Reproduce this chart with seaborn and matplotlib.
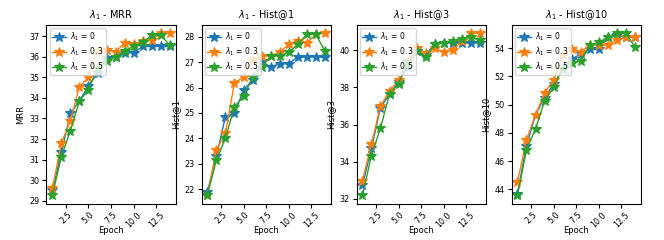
import matplotlib
matplotlib.use('Agg')
import matplotlib.pyplot as plt
from matplotlib.ticker import MultipleLocator
import pandas as pd
import seaborn as sns

epochs = list(range(1, 15))
lambdas = ['0', '0.3', '0.5']

# MRR
mrr_0 = [29.5, 31.35, 33.25, 33.85, 34.6, 35.2, 35.95, 36.0, 36.2, 36.2, 36.5, 36.5, 36.5, 36.5]
mrr_3 = [29.6, 31.8, 32.9, 34.55, 35.0, 36.3, 36.35, 36.25, 36.65, 36.6, 36.75, 36.8, 37.15, 37.15]
mrr_5 = [29.26, 31.15, 32.4, 33.85, 34.4, 35.45, 35.8, 36.0, 36.3, 36.5, 36.7, 37.05, 37.05, 36.55]

# Hist@1
h1_0 = [21.9, 23.3, 24.85, 25.0, 25.9, 26.3, 27.05, 26.8, 26.95, 26.95, 27.2, 27.2, 27.2, 27.2]
h1_3 = [21.75, 23.55, 24.2, 26.2, 26.4, 27.1, 27.25, 27.25, 27.4, 27.7, 27.85, 27.75, 28.1, 28.15]
h1_5 = [21.75, 23.15, 24.0, 25.25, 25.65, 26.4, 26.8, 27.25, 27.25, 27.4, 27.7, 28.1, 28.1, 27.45]

# Hist@3
h3_0 = [32.72, 34.73, 36.9, 37.65, 38.3, 39.1, 39.95, 39.75, 40.35, 40.4, 40.4, 40.4, 40.4, 40.4]
h3_3 = [32.97, 34.95, 37.0, 37.8, 38.4, 39.45, 40.13, 39.85, 40.1, 39.9, 40.0, 40.5, 40.93, 40.93]
h3_5 = [32.18, 34.33, 35.8, 37.65, 38.2, 39.35, 39.95, 39.64, 40.35, 40.4, 40.5, 40.63, 40.7, 40.57]

# Hist@10
h10_0 = [43.7, 47.1, 49.28, 50.5, 51.43, 52.54, 53.2, 53.6, 53.9, 53.9, 54.78, 54.9, 54.78, 54.75]
h10_3 = [44.52, 47.53, 49.28, 50.8, 51.76, 53.5, 53.9, 53.7, 54.25, 54.2, 54.25, 54.54, 54.78, 54.78]
h10_5 = [43.58, 46.8, 48.3, 50.25, 51.24, 52.54, 52.95, 53.1, 54.2, 54.4, 54.78, 55.06, 55.06, 54.07]

metrics = ['MRR', 'Hist@1', 'Hist@3', 'Hist@10']
series = {
    'MRR': [mrr_0, mrr_3, mrr_5],
    'Hist@1': [h1_0, h1_3, h1_5],
    'Hist@3': [h3_0, h3_3, h3_5],
    'Hist@10': [h10_0, h10_3, h10_5],
}

rows = []
for m in metrics:
    for lam, vals in zip(lambdas, series[m]):
        for e, v in zip(epochs, vals):
            rows.append({'metric': m, 'lam': r'$\lambda_1$ = ' + lam, 'Epoch': e, 'value': v})
df = pd.DataFrame(rows)

plt.rcParams['font.size'] = 6
fig, axes = plt.subplots(1, 4, figsize=(6.64, 2.4), dpi=100)
fig.subplots_adjust(left=0.07, right=0.965, top=0.896, bottom=0.152, wspace=0.2)

palette = sns.color_palette('tab10', 3)
for ax, m in zip(axes, metrics):
    sub = df[df['metric'] == m]
    sns.lineplot(data=sub, x='Epoch', y='value', hue='lam', palette=palette,
                 marker='*', markersize=7, linewidth=1, ax=ax)
    # matplotlib-style markers: edge in the line colour
    for line in ax.lines:
        line.set_markeredgecolor(line.get_color())
        line.set_markeredgewidth(0.8)
    ax.set_title(r'$\lambda_1$ - ' + m, fontsize=7, pad=5)
    ax.set_ylabel(m, fontsize=6, labelpad=3)
    ax.set_xlabel('Epoch', fontsize=6)
    ax.xaxis.set_label_coords(0.5, -0.125)
    ax.xaxis.set_major_locator(MultipleLocator(2.5))
    ax.set_xlim(0.35, 14.65)
    ax.tick_params(axis='both', labelsize=5.8, length=3, pad=2)
    plt.setp(ax.get_xticklabels(), rotation=45)
    leg = ax.legend(loc='upper left', fontsize=5.5, handlelength=1.8, borderpad=0.35,
                    labelspacing=0.3, handletextpad=0.5, borderaxespad=0.4)
    for line in leg.get_lines():
        line.set_markeredgecolor(line.get_color())
        line.set_markeredgewidth(0.8)

plt.savefig('out.png', dpi=100)
